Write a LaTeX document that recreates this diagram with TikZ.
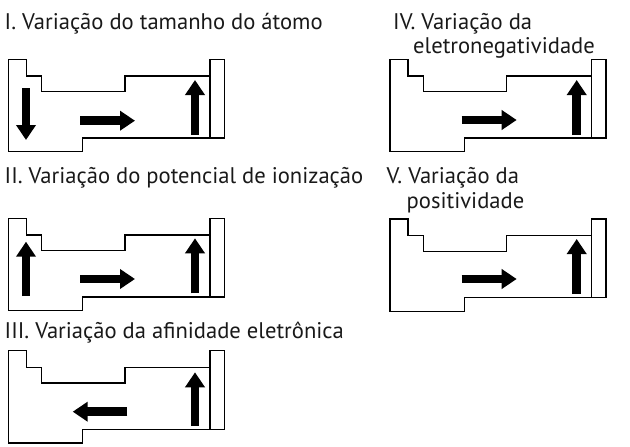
\documentclass[tikz,border=0pt]{standalone}
\usepackage{fontspec}
\setmainfont{PT Sans}
\usetikzlibrary{arrows.meta}
\begin{document}
\begin{tikzpicture}[x=1pt, y=-1pt,
    tabela/.pic = {
        \draw[line width=1.5pt] (0,0) -- (18,0) -- (18,16.7) -- (33.4,16.7) -- (33.4,32.4) -- (116.7,32.4)
            -- (116.7,16.7) -- (201.7,16.7) -- (201.7,78.7) -- (74.4,78.7) -- (74.4,92.4) -- (0,92.4) -- cycle;
        \draw[line width=1.5pt] (201.7,0) rectangle (216,78.7);
    },
    seta/.style = {line width=8.5pt, -{Triangle[length=15pt, width=19pt]}},
    titulo/.style = {anchor=base west, inner sep=0pt, text=black!90, font=\fontsize{22.6}{24}\selectfont}]

    \useasboundingbox (0,0) rectangle (630,447);

    % Titles
    \node[titulo] (T1) at (4.5,29.3) {I. Variação do tamanho do átomo};
    \node[titulo] (T2) at (4.5,183.3) {II. Variação do potencial de ionização};
    \node[titulo] (T3) at (4.5,338.3) {III. Variação da afinidade eletrônica};
    \node[titulo] (T4) at (393,29.3) {IV. Variação da};
    \node[titulo] (T4b) at (413,53.3) {eletronegatividade};
    \node[titulo] (T5) at (386.5,183.3) {V. Variação da};
    \node[titulo] (T5b) at (406.5,208.3) {positividade};

    % Tables
    \pic at (8.3,59.3) {tabela};
    \pic at (8.3,218.3) {tabela};
    \pic at (8.3,350.7) {tabela};
    \pic at (390,59.3) {tabela};
    \pic at (390,219) {tabela};

    % Arrows
    \draw[seta] (26,88) -- (26,140);
    \draw[seta] (80,120.7) -- (135,120.7);
    \draw[seta] (195,135) -- (195,80);

    \draw[seta] (26,296) -- (26,241.7);
    \draw[seta] (80,279) -- (135,279);
    \draw[seta] (195,293.3) -- (195,238.3);

    \draw[seta] (127.3,411.7) -- (72.7,411.7);
    \draw[seta] (195,425.7) -- (195,372.3);

    \draw[seta] (461.7,120) -- (516.7,120);
    \draw[seta] (576.7,135) -- (576.7,80);

    \draw[seta] (461.7,279) -- (516.7,279);
    \draw[seta] (576.7,294) -- (576.7,239);
\end{tikzpicture}
\end{document}
